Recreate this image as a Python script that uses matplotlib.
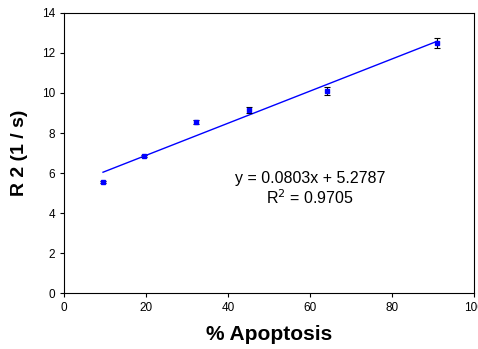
import numpy as np
import matplotlib
matplotlib.use("Agg")
import matplotlib.pyplot as plt

# data
apoptosis = [9.5, 19.5, 32.2, 45.1, 64.1, 91.0]
r2 = [5.55, 6.85, 8.55, 9.15, 10.1, 12.5]
r2_err = [0.03, 0.03, 0.1, 0.15, 0.18, 0.25]
slope, intercept = 0.0803, 5.2787

plt.rcParams['font.family'] = ['Liberation Sans', 'DejaVu Sans']

fig = plt.figure(figsize=(4.78, 3.49), dpi=100)
ax = fig.add_axes([0.134, 0.160, 0.858, 0.803])

# trendline
xs = np.array([min(apoptosis), max(apoptosis)])
ax.plot(xs, slope * xs + intercept, color='blue', lw=1)

ax.errorbar(apoptosis, r2, yerr=r2_err, fmt='s', color='blue', ms=3,
            ecolor='black', elinewidth=0.8, capsize=2, capthick=0.8)

ax.text(60, 5.2, 'y = 0.0803x + 5.2787\nR$^2$ = 0.9705', ha='center',
        va='center', fontsize=11.5, linespacing=1.15)

ax.set_xlim(0, 100)
ax.set_ylim(0, 14)
ax.set_xticks(range(0, 101, 20))
ax.set_yticks(range(0, 15, 2))
ax.tick_params(labelsize=8.5, length=3, width=0.8)
for s in ax.spines.values():
    s.set_linewidth(0.8)

ax.set_xlabel('% Apoptosis', fontsize=15, fontweight='bold', labelpad=8)
ax.set_ylabel('R 2 (1 / s)', fontsize=14, fontweight='bold', labelpad=10)

fig.savefig('out.png', dpi=100)
